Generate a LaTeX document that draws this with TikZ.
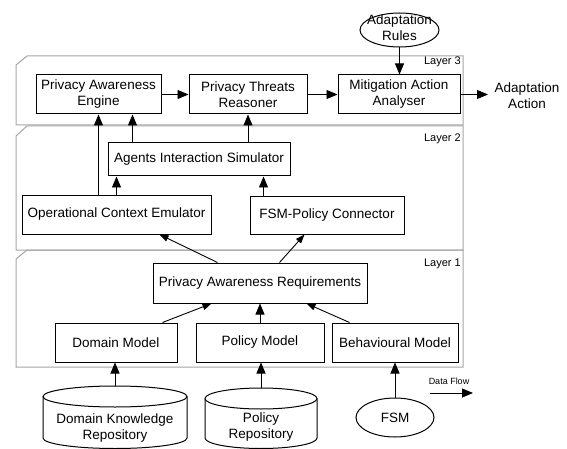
\documentclass[tikz,border=0pt]{standalone}
\usepackage{fontspec}
\setmainfont{Liberation Sans}
\usetikzlibrary{arrows.meta,shapes.geometric}
\begin{document}
\begin{tikzpicture}[x=1pt,y=-1pt,
  box/.style={draw, line width=1pt, inner sep=0pt, align=center, font=\fontsize{13.5}{16}\selectfont},
  txt/.style={align=center, inner sep=0pt, font=\fontsize{13.5}{16}\selectfont},
  arr/.style={line width=0.9pt, -{Triangle[length=11pt,width=9pt]}},
  darr/.style={line width=0.9pt, -{Triangle[length=9pt,width=6.5pt]}},
  layer/.style={draw=black!35, line width=1pt},
  lbl/.style={font=\fontsize{11}{13}\selectfont, anchor=east, inner sep=0pt},
  cyl/.style={draw, line width=1pt}]

\fill[white] (0,0) rectangle (567,449);
\useasboundingbox (0,0) rectangle (567,449);

% layers
\draw[layer] (16,65) -- (27,56) -- (463,56) -- (463,125) -- (16,125) -- cycle;
\draw[layer] (16,136) -- (27,126) -- (463,126) -- (463,250) -- (16,250) -- cycle;
\draw[layer] (16,259) -- (27,250) -- (463,250) -- (463,367) -- (16,367) -- cycle;
\node[lbl] (l3) at (461,62) {Layer 3};
\node[lbl] (l2) at (461,139) {Layer 2};
\node[lbl] (l1) at (461,264) {Layer 1};

% layer 3
\node[box, minimum width=125pt, minimum height=39pt] (pae) at (98.5,94.5) {Privacy Awareness\\Engine};
\node[box, minimum width=118pt, minimum height=39pt] (ptr) at (248,94.5) {Privacy Threats\\Reasoner};
\node[box, minimum width=122pt, minimum height=39pt] (maa) at (399,94.5) {Mitigation Action\\Analyser};
\node[draw, ellipse, line width=1pt, minimum width=79pt, minimum height=34pt, inner sep=0pt] (ar) at (399.5,30) {};
\node[txt] (artxt) at (399.5,28) {Adaptation\\Rules};
\node[txt] (aa) at (527,96) {Adaptation\\Action};
\coordinate (aaend) at (488,94.5);

% layer 2
\node[box, minimum width=182pt, minimum height=33pt] (ais) at (199,159.5) {Agents Interaction Simulator};
\node[box, minimum width=189pt, minimum height=39pt] (oce) at (116.5,214.5) {Operational Context Emulator};
\node[box, minimum width=154pt, minimum height=38pt] (fpc) at (327,215) {FSM-Policy Connector};

% layer 1
\node[box, minimum width=214pt, minimum height=40pt] (par) at (260,283) {Privacy Awareness Requirements};
\node[box, minimum width=122pt, minimum height=39pt] (dm) at (116,342.5) {Domain Model};
\node[box, minimum width=128pt, minimum height=39pt] (pm) at (260,342.5) {Policy Model};
\node[box, minimum width=126pt, minimum height=39pt] (bm) at (395,342.5) {Behavioural Model};

% repositories
\draw[cyl] (115,396.5) ellipse[x radius=72pt, y radius=10.5pt];
\draw[cyl] (43,396.5) -- (43,438) arc[start angle=180, end angle=360, x radius=72pt, y radius=10.5pt] -- (187,396.5);
\node[txt] (dkr) at (115,428.5) {Domain Knowledge\\Repository};
\coordinate (dkrtop) at (115,386);

\draw[cyl] (261,398.5) ellipse[x radius=56pt, y radius=10.5pt];
\draw[cyl] (205,398.5) -- (205,438) arc[start angle=180, end angle=360, x radius=56pt, y radius=10.5pt] -- (317,398.5);
\node[txt] (pr) at (261,427) {Policy\\Repository};
\coordinate (prtop) at (261,388);

\node[draw, ellipse, line width=1pt, minimum width=78pt, minimum height=39pt, inner sep=0pt, font=\fontsize{13.5}{16}\selectfont] (fsm) at (395,417.5) {FSM};

% legend
\node[font=\fontsize{9}{11}\selectfont, inner sep=0pt] (dfl) at (449,381) {Data Flow};
\coordinate (df1) at (430,393);
\coordinate (df2) at (473,393);
\draw[arr] (df1) -- (df2);

% connectors layer 3
\draw[arr] (pae.east) -- (ptr.west);
\draw[arr] (ptr.east) -- (maa.west);
\draw[arr] (maa.east) -- (aaend);
\draw[arr] (ar.south) -- (ar.south |- maa.north);

% layer 2 -> 3
\draw[arr] (oce.north -| pae.south) -- (pae.south);
\draw[arr] ([xshift=25pt]ais.north west) -- ([xshift=25pt]ais.north west |- pae.south);
\draw[arr] (ais.north -| ptr.south) -- (ptr.south);
\draw[arr] (oce.north) -- (oce.north |- ais.south);
\draw[arr] ([xshift=14pt]fpc.north west) -- ([xshift=14pt]fpc.north west |- ais.south);

% layer 1 -> 2
\draw[darr] ([xshift=65pt]par.north west) -- ([xshift=138pt]oce.south west);
\draw[darr] ([xshift=127pt]par.north west) -- ([xshift=55pt]fpc.south west);

% models -> requirements
\draw[darr] ([xshift=108pt]dm.north west) -- ([xshift=59pt]par.south west);
\draw[arr] (pm.north) -- (pm.north |- par.south);
\draw[darr] ([xshift=18pt]bm.north west) -- ([xshift=154pt]par.south west);

% sources -> models
\draw[arr] (dkrtop) -- (dkrtop |- dm.south);
\draw[arr] (prtop) -- (prtop |- pm.south);
\draw[arr] (fsm.north) -- (fsm.north |- bm.south);
\end{tikzpicture}
\end{document}
